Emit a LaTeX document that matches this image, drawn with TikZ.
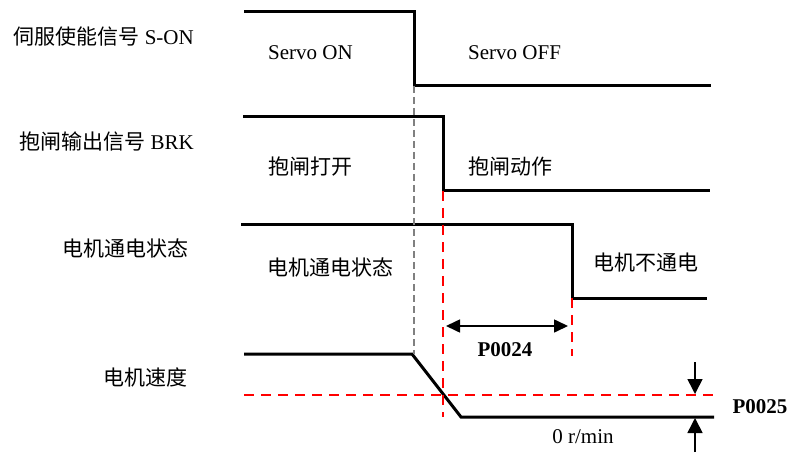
\documentclass[tikz,border=0pt]{standalone}
\usepackage{fontspec}
\setmainfont{Liberation Serif}
\newfontfamily\cjk{Noto Sans CJK SC}
\usetikzlibrary{arrows.meta, positioning, calc}
\definecolor{markred}{RGB}{255,0,0}
\definecolor{markgrey}{RGB}{128,128,128}

\begin{document}
\begin{tikzpicture}[x=1pt, y=-1pt,
  wave/.style={line width=3pt, line join=miter},
  redmark/.style={markred, line width=2pt, dash pattern=on 10pt off 7pt},
  greymark/.style={markgrey, line width=1.2pt, dash pattern=on 7pt off 4pt},
  dimline/.style={line width=1.6pt, {Triangle[length=14pt, width=13pt]}-{Triangle[length=14pt, width=13pt]}},
  limarrow/.style={line width=1.6pt, -{Triangle[length=15pt, width=15pt]}},
  lbl/.style={font=\fontsize{21}{24}\selectfont, inner sep=0pt},
  num/.style={lbl, font=\fontsize{21}{24}\selectfont\bfseries}]
  \useasboundingbox (0,0) rectangle (791,454);

  % Signal S-ON
  \coordinate (son0) at (244,12);
  \coordinate (son1) at (414,12);
  \coordinate (son2) at (414,86);
  \coordinate (son3) at (711,86);
  \draw[wave] (son0) -- (son1) -- (son2) -- (son3);
  % Signal BRK
  \coordinate (brk0) at (243,117);
  \coordinate (brk1) at (443,117);
  \coordinate (brk2) at (443,191);
  \coordinate (brk3) at (710,191);
  \draw[wave] (brk0) -- (brk1) -- (brk2) -- (brk3);
  % Motor power
  \coordinate (pwr0) at (241,224);
  \coordinate (pwr1) at (572,224);
  \coordinate (pwr2) at (572,298);
  \coordinate (pwr3) at (707,298);
  \draw[wave] (pwr0) -- (pwr1) -- (pwr2) -- (pwr3);
  % Motor speed
  \coordinate (spd0) at (244,354);
  \coordinate (spd1) at (412,354);
  \coordinate (spd2) at (461,417);
  \coordinate (spd3) at (714,417);
  \draw[wave] (spd0) -- (spd1) -- (spd2) -- (spd3);

  % Marker lines
  \draw[greymark] (son2) -- (son2 |- spd1);
  \coordinate (cut) at (443,417);
  \draw[redmark] (brk2) -- (cut);
  \coordinate (pwrend) at (572,356);
  \draw[redmark] (pwr2) -- (pwrend);
  \coordinate (lim0) at (244,395);
  \coordinate (lim1) at (714,395);
  \draw[redmark] (lim0) -- (lim1);

  % P0024
  \coordinate (p24a) at (446,326);
  \coordinate (p24b) at (568,326);
  \draw[dimline] (p24a) -- (p24b);
  \node[num] (p24) at (505,350) {P0024};

  % P0025
  \coordinate (uptail) at (695,362);
  \coordinate (uptip) at (695,394);
  \coordinate (dntail) at (695,452);
  \coordinate (dntip) at (695,418);
  \draw[limarrow] (uptail) -- (uptip);
  \draw[limarrow] (dntail) -- (dntip);
  \node[num] (p25) at (760,407) {P0025};
  \node[lbl] (zero) at (583,437) {0 r/min};

  % Labels left
  \node[lbl, anchor=east] (son) at (194,37) {{\cjk 伺服使能信号} S-ON};
  \node[lbl, anchor=east] (brk) at (194,142) {{\cjk 抱闸输出信号} BRK};
  \node[lbl, anchor=east] (pwr) at (189,248) {\cjk 电机通电状态};
  \node[lbl, anchor=east] (spd) at (188,377) {\cjk 电机速度};

  % Labels in the waves
  \node[lbl, anchor=west] (sonon) at (268,53) {Servo ON};
  \node[lbl, anchor=west] (sonoff) at (468,53) {Servo OFF};
  \node[lbl, anchor=west] (brkopen) at (268,167) {\cjk 抱闸打开};
  \node[lbl, anchor=west] (brkact) at (468,167) {\cjk 抱闸动作};
  \node[lbl, anchor=west] (pwron) at (267,267) {\cjk 电机通电状态};
  \node[lbl, anchor=west] (pwroff) at (593,263) {\cjk 电机不通电};
\end{tikzpicture}
\end{document}
